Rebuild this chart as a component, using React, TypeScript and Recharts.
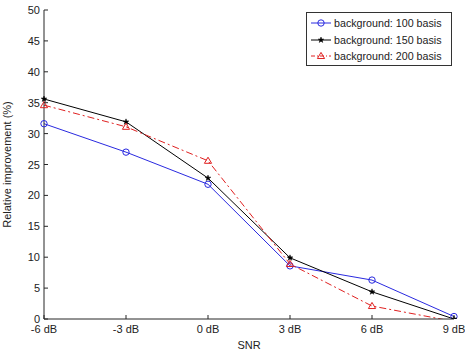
import React from 'react';
import { LineChart, Line, XAxis, YAxis, Legend } from 'recharts';

const snrLabels = ['-6 dB', '-3 dB', '0 dB', '3 dB', '6 dB', '9 dB'];
const basis100 = [31.6, 27.0, 21.8, 8.6, 6.3, 0.4];
const basis150 = [35.6, 31.9, 22.8, 9.9, 4.4, 0.0];
const basis200 = [34.6, 31.1, 25.6, 8.9, 2.1, -0.4];
const yTicks = [0, 5, 10, 15, 20, 25, 30, 35, 40, 45, 50];

const data = snrLabels.map((snr, i) => ({
  snr,
  b100: basis100[i],
  b150: basis150[i],
  b200: basis200[i],
}));

const FONT = 'Liberation Sans, Arial, Helvetica, sans-serif';
const AXIS = '#262626';
const TXT = '#222';

type Shape = 'circle' | 'star' | 'triangle';

const Marker = ({ cx, cy, shape, color }: { cx: number; cy: number; shape: Shape; color: string }) => {
  if (cx == null || cy == null || isNaN(cx) || isNaN(cy)) return null;
  if (shape === 'circle') {
    return <circle cx={cx} cy={cy} r={3.2} fill="none" stroke={color} strokeWidth={1} />;
  }
  if (shape === 'triangle') {
    const r = 3.6;
    return (
      <polygon
        points={`${cx},${cy - r} ${cx - r},${cy + r * 0.7} ${cx + r},${cy + r * 0.7}`}
        fill="none"
        stroke={color}
        strokeWidth={1}
      />
    );
  }
  const pts: string[] = [];
  for (let k = 0; k < 10; k++) {
    const ang = -Math.PI / 2 + (k * Math.PI) / 5;
    const rad = k % 2 === 0 ? 3.0 : 1.2;
    pts.push(`${cx + rad * Math.cos(ang)},${cy + rad * Math.sin(ang)}`);
  }
  return <polygon points={pts.join(' ')} fill={color} stroke={color} strokeWidth={0.5} />;
};

const series = [
  { key: 'b100', name: 'background: 100 basis', color: '#2a2ae0', shape: 'circle' as Shape, dash: undefined as string | undefined },
  { key: 'b150', name: 'background: 150 basis', color: '#000000', shape: 'star' as Shape, dash: undefined as string | undefined },
  { key: 'b200', name: 'background: 200 basis', color: '#e02020', shape: 'triangle' as Shape, dash: '7 3 2 3' },
];

const XTick = (props: any) => {
  const { x, y, payload } = props;
  return (
    <g>
      <line x1={x} y1={y} x2={x} y2={y - 4} stroke={AXIS} strokeWidth={1} />
      <text x={x} y={y + 14} textAnchor="middle" fontSize={11} fontFamily={FONT} fill={TXT}>
        {payload.value}
      </text>
    </g>
  );
};

const YTick = (props: any) => {
  const { x, y, payload } = props;
  return (
    <g>
      <line x1={x} y1={y} x2={x + 4} y2={y} stroke={AXIS} strokeWidth={1} />
      <text x={x - 4} y={y + 4} textAnchor="end" fontSize={11} fontFamily={FONT} fill={TXT}>
        {payload.value}
      </text>
    </g>
  );
};

const LegendBox = () => (
  <div
    style={{
      border: '1px solid #333',
      background: '#fff',
      width: 146,
      height: 54,
      boxSizing: 'border-box',
      padding: '2px 0 0 0',
      fontFamily: FONT,
      fontSize: 10.7,
      color: TXT,
    }}
  >
    {series.map((s) => (
      <div key={s.key} style={{ display: 'flex', alignItems: 'center', height: 16.5, lineHeight: '16px' }}>
        <svg width={26} height={16} style={{ flex: '0 0 26px' }}>
          <line x1={4} y1={8} x2={24} y2={8} stroke={s.color} strokeWidth={1} strokeDasharray={s.dash ? '4 2 1 2' : undefined} />
          <Marker cx={14} cy={8} shape={s.shape} color={s.color} />
        </svg>
        <span style={{ whiteSpace: 'nowrap', marginLeft: 1 }}>{s.name}</span>
      </div>
    ))}
  </div>
);

export default function App() {
  return (
    <div style={{ position: 'absolute', left: 0, top: 0, width: 465, height: 351, background: '#fff' }}>
      <LineChart width={465} height={351} data={data} margin={{ top: 10, right: 11, bottom: 0, left: 0 }}>
        <XAxis
          dataKey="snr"
          type="category"
          padding={{ left: 0, right: 0 }}
          height={32}
          tickLine={false}
          tickSize={0}
          tickMargin={0}
          interval={0}
          tick={<XTick />}
          axisLine={{ stroke: AXIS }}
          label={{ value: 'SNR', position: 'insideBottom', offset: 2, fontSize: 11, fontFamily: FONT, fill: TXT }}
        />
        <YAxis
          type="number"
          domain={[0, 50]}
          ticks={yTicks}
          allowDataOverflow
          width={44}
          tickLine={false}
          tickSize={0}
          tickMargin={0}
          interval={0}
          tick={<YTick />}
          axisLine={{ stroke: AXIS }}
          label={{
            value: 'Relative improvement (%)',
            angle: -90,
            position: 'insideLeft',
            offset: 7,
            style: { textAnchor: 'middle' },
            fontSize: 11,
            fontFamily: FONT,
            fill: TXT,
          }}
        />
        <Legend
          layout="horizontal"
          verticalAlign="middle"
          align="center"
          content={() => <LegendBox />}
          wrapperStyle={{ left: 306, top: 12, width: 146, height: 54 }}
        />
        {series.map((s) => (
          <Line
            key={s.key}
            dataKey={s.key}
            name={s.name}
            stroke={s.color}
            strokeWidth={1}
            strokeDasharray={s.dash}
            isAnimationActive={false}
            dot={(p: any) =>
              p.value < 0 ? (
                <g key={`${s.key}-${p.index}`} />
              ) : (
                <Marker key={`${s.key}-${p.index}`} cx={p.cx} cy={p.cy} shape={s.shape} color={s.color} />
              )
            }
            activeDot={false}
          />
        ))}
      </LineChart>
    </div>
  );
}
